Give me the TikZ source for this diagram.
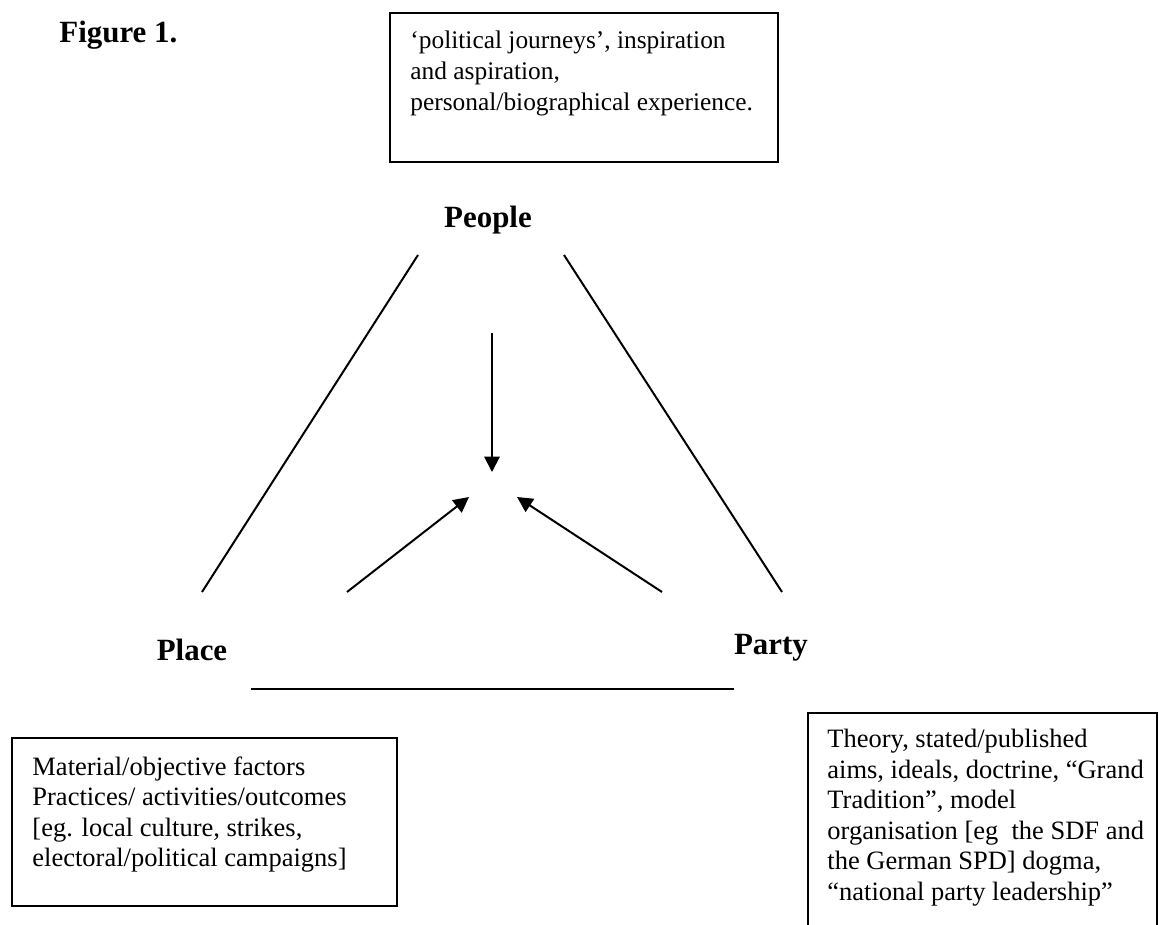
\documentclass[tikz,border=0pt]{standalone}
\usepackage{fontspec}
\setmainfont{Liberation Serif}
\usetikzlibrary{arrows.meta}
\tikzset{
  boxline/.style={line width=0.7pt},
  link/.style={line width=0.9pt},
  pull/.style={link,-{Triangle[length=7pt,width=7pt]}},
  corner/.style={font=\fontsize{14}{16}\selectfont\bfseries,inner sep=0pt,anchor=base},
  notes/.style={font=\fontsize{12}{13.8}\selectfont,align=left,inner sep=0pt,anchor=north west}
}
\begin{document}
\begin{tikzpicture}[x=0.453pt,y=-0.453pt]
\useasboundingbox (0,0) rectangle (1159,925);
\node[corner,anchor=base west] (fig) at (59,43) {Figure 1.};
% the three corners
\node[corner] (people) at (488,228) {People};
\node[corner] (place) at (192,660) {Place};
\node[corner] (party) at (771,654) {Party};
% sides of the triangle
\coordinate (pl1) at (418,255); \coordinate (pl2) at (202,592);
\coordinate (pr1) at (564,255); \coordinate (pr2) at (782,592);
\coordinate (b1) at (251,689); \coordinate (b2) at (734,689);
\draw[link] (pl1)--(pl2);
\draw[link] (pr1)--(pr2);
\draw[link] (b1)--(b2);
% arrows to the middle
\coordinate (a1) at (492,333); \coordinate (m1) at (492,472);
\coordinate (a2) at (347,592); \coordinate (m2) at (469,497);
\coordinate (a3) at (662,592); \coordinate (m3) at (517,497);
\draw[pull] (a1)--(m1);
\draw[pull] (a2)--(m2);
\draw[pull] (a3)--(m3);
% boxes
\draw[boxline] (390,13) rectangle (778,162);
\node[notes,font=\fontsize{11.5}{14.2}\selectfont] (journeys) at (410,30) {‘political journeys’, inspiration\\and aspiration,\\personal/biographical experience.};
\draw[boxline] (12,738) rectangle (397,906);
\node[notes] (factors) at (32,756) {Material/objective factors\\Practices/ activities/outcomes\\{[eg.} local culture, strikes,\\electoral/political campaigns]};
\draw[boxline] (808,925) |- (1157,713) -- (1157,925);
\node[notes] (theory) at (827,729) {Theory, stated/published\\aims, ideals, doctrine, “Grand\\Tradition”, model\\organisation [eg\ \ the SDF and\\the German SPD] dogma,\\“national party leadership”};
\end{tikzpicture}
\end{document}
